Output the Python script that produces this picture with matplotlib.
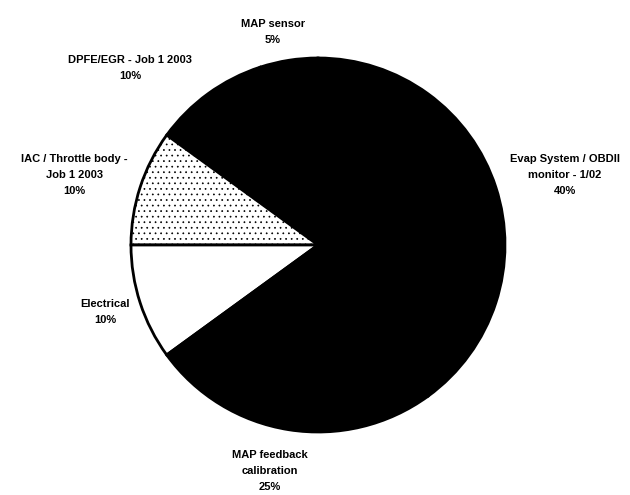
import matplotlib
matplotlib.use("Agg")
import matplotlib.pyplot as plt

categories = ["MAP sensor", "DPFE/EGR - Job 1 2003", "IAC / Throttle body -\nJob 1 2003",
              "Electrical", "MAP feedback\ncalibration", "Evap System / OBDII\nmonitor - 1/02"]
values = [5, 10, 10, 10, 25, 40]
pct_labels = ["5%", "10%", "10%", "10%", "25%", "40%"]

colors = ["black", "black", "white", "white", "black", "black"]
hatches = [None, None, "...", None, None, None]

W, H = 630, 495
fig = plt.figure(figsize=(W / 100, H / 100), dpi=100)
ax = fig.add_axes([0, 0, 1, 1])

plt.rcParams["hatch.linewidth"] = 0.5
wedges, _ = ax.pie(values, colors=colors, startangle=90, counterclock=True,
                   center=(318, H - 245), radius=187, frame=True,
                   wedgeprops=dict(edgecolor="black", linewidth=2))
for w, h in zip(wedges, hatches):
    if h:
        w.set_hatch(h)

ax.set_xlim(0, W)
ax.set_ylim(0, H)
ax.set_aspect("equal")
ax.axis("off")

# label positions in pixel coordinates (x, y from top)
label_pos = [(273, 32), (130, 68), (74, 175), (105, 312), (270, 471), (565, 175)]
for cat, pct, (x, y) in zip(categories, pct_labels, label_pos):
    ax.text(x, H - y, cat + "\n" + pct, ha="center", va="center",
            fontsize=8, fontweight="bold", family="Liberation Sans",
            linespacing=1.75)

fig.savefig("out.png", dpi=100)
